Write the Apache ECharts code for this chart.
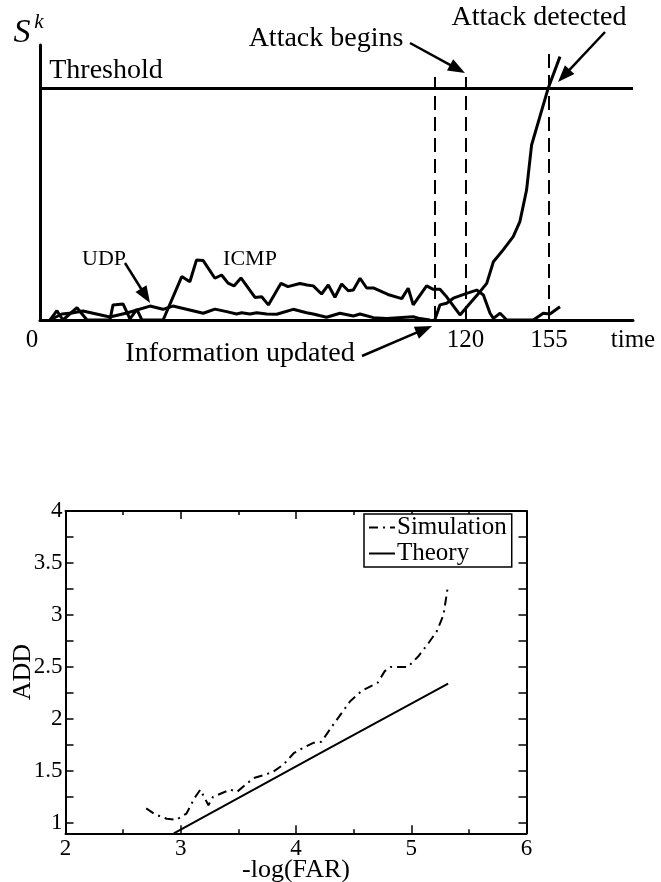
<!DOCTYPE html>
<html>
<head>
<meta charset="utf-8">
<script src="https://cdn.jsdelivr.net/npm/echarts@6/dist/echarts.min.js"></script>
<style>
html, body { margin: 0; padding: 0; background: #fff; }
#chart1 { width: 661px; height: 882px; }
</style>
</head>
<body>
<div id="chart1"></div>
<script>
// ---- top plot: statistic S^k against time ----
var timeTicks = [-58.3, 120, 155];
var timeTickLabels = ['0', '120', '155'];
var threshold = 10;
var updateTime = 107.1, attackBegin = 120, attackDetect = 155;

var udpData = [[-54.1,0],[-49.1,0.26],[-44.9,0.30],[-40.3,0.39],[-29.0,0.13],[-21.9,0.30],[-12.2,0.60],[-6.8,0.46],[-2.6,0.60],
  [10.1,0.29],[15.0,0.47],[19.9,0.36],[24.1,0.26],[26.2,0.31],[29.7,0.26],[32.5,0.31],[36.7,0.26],[40.9,0.25],[47.8,0.46],
  [53.4,0.31],[56.2,0.26],[61.8,0.12],[67.4,0.29],[73.0,0.17],[75.8,0.26],[81.4,0.10],[87.0,0.06],[98.1,0.14],[100.9,0.06],[105.1,0]];

var icmpData = [[-54.1,0],[-51.2,0.40],[-48.7,0],[-42.8,0.53],[-38.6,0],[-29.0,0],[-27.7,0.65],[-23.5,0.69],[-20.6,0.05],
  [-17.7,0.46],[-15.6,0],[-6.7,0],[1.1,1.87],[4.5,1.65],[7.3,2.59],[10.1,2.56],[15.0,1.80],[17.8,1.94],[20.5,1.59],[23.0,1.47],
  [25.9,1.81],[31.8,0.97],[34.6,1.0],[37.4,0.65],[42.7,1.58],[45.6,1.44],[50.6,1.57],[53.6,1.51],[56.2,1.47],[59.7,1.12],
  [62.5,1.51],[65.3,0.98],[68.1,1.55],[70.9,1.26],[73.0,1.29],[75.8,1.80],[78.6,1.38],[81.4,1.38],[87.5,1.10],[93.3,0.92],
  [96.0,1.37],[98.1,0.65],[103.7,1.47],[106.5,1.32],[109.3,1.32],[112.1,1.0],[117.7,0.22],[121.9,0.72],[126.1,1.22],
  [128.9,1.58],[131.7,2.51],[135.8,3.02],[140.0,3.59],[142.8,4.24],[145.6,5.60],[147.7,7.54],[154.7,10.0],[159.6,11.35]];

// statistic restarted after the information update
var updatedData = [[107.1,0],[109.3,0.65],[112.1,0.72],[114.9,0.94],[120.5,1.15],[124.7,1.29],[127.5,1.08],[130.3,0.29],
  [131.7,0.07],[134.5,0.29],[137.3,0],[148.4,0],[152.6,0.29],[155.4,0.26],[159.6,0.57]];

// ---- bottom plot: ADD against -log(FAR) ----
var simulationData = [[2.70,1.14],[2.78,1.08],[2.88,1.04],[2.96,1.03],[3.05,1.09],[3.12,1.24],[3.17,1.32],[3.24,1.17],
  [3.28,1.25],[3.43,1.32],[3.49,1.30],[3.63,1.43],[3.72,1.46],[3.80,1.49],[3.89,1.56],[3.98,1.67],[4.06,1.72],[4.15,1.77],
  [4.22,1.78],[4.32,1.94],[4.47,2.17],[4.57,2.27],[4.71,2.35],[4.77,2.46],[4.82,2.50],[4.92,2.50],[4.97,2.50],[5.06,2.60],
  [5.15,2.73],[5.22,2.84],[5.28,3.00],[5.32,3.29]];
var theoryData = [[2.94,0.9],[4.29,1.72],[5.32,2.34]];
var addLabels = [1, 1.5, 2, 2.5, 3, 3.5, 4];
var addTicks = [1, 1.25, 1.5, 1.75, 2, 2.25, 2.5, 2.75, 3, 3.25, 3.5, 3.75, 4];

var SERIF = 'Liberation Serif';

function arrow(x1, y1, x2, y2) {
  var dx = x2 - x1, dy = y2 - y1, L = Math.sqrt(dx * dx + dy * dy);
  var ux = dx / L, uy = dy / L, h = 17, w = 6.5;
  var bx = x2 - ux * h, by = y2 - uy * h;
  return [
    { type: 'line', shape: { x1: x1, y1: y1, x2: bx + ux * 2, y2: by + uy * 2 }, style: { stroke: '#000', lineWidth: 2.5 } },
    { type: 'polygon', shape: { points: [[x2, y2], [bx - uy * w, by + ux * w], [bx + uy * w, by - ux * w]] }, style: { fill: '#000' } }
  ];
}

function label(txt, x, y, size, italic) {
  return {
    type: 'text', x: x, y: y,
    style: { text: txt, fontFamily: SERIF, fontSize: size, fontStyle: italic ? 'italic' : 'normal',
             fill: '#000', align: 'center', verticalAlign: 'middle' }
  };
}

var graphics = [
  label('S', 22, 33, 34, true),
  label('k', 39, 22, 21, true),
  label('Threshold', 106, 71, 28),
  label('Attack begins', 326, 39, 28),
  label('Attack detected', 539, 18, 28),
  label('UDP', 104, 259, 22),
  label('ICMP', 250, 259, 22),
  label('Information updated', 240, 354, 28)
].concat(arrow(410, 43, 465, 73))
 .concat(arrow(605, 32, 558, 82))
 .concat(arrow(125, 263, 150, 303))
 .concat(arrow(362, 356, 432, 326));

var myChart = echarts.init(document.getElementById('chart1'));

var tickFont = { color: '#000', fontFamily: SERIF, fontSize: 23 };

var option = {
  animation: false,
  backgroundColor: '#fff',
  grid: [
    { left: 40, right: 28, top: 45, bottom: 562, outerBoundsMode: 'none' },
    { left: 65.5, right: 134.5, top: 511, bottom: 48.7, outerBoundsMode: 'none' }
  ],
  legend: {
    data: ['Simulation', 'Theory'],
    orient: 'vertical',
    left: 364, top: 514,
    itemWidth: 26, itemHeight: 12, itemGap: 1,
    padding: [1, 5, 1, 4],
    borderColor: '#000', borderWidth: 1.5,
    backgroundColor: '#fff',
    itemStyle: { opacity: 0, borderWidth: 0 },
    textStyle: { color: '#000', fontFamily: SERIF, fontSize: 25, padding: [0, 0, 0, -3] }
  },
  xAxis: [
    {
      gridIndex: 0, type: 'value', min: -58.3, max: 190.2,
      name: 'time', nameLocation: 'end', nameGap: 0, nameMoveOverlap: false,
      nameTextStyle: { color: '#000', fontFamily: SERIF, fontSize: 25, align: 'center', verticalAlign: 'top', padding: [8, 0, 0, 0] },
      axisLine: { lineStyle: { color: '#000', width: 3 } },
      axisTick: { show: false },
      splitLine: { show: false },
      axisLabel: {
        customValues: timeTicks, margin: 8,
        color: '#000', fontFamily: SERIF, fontSize: 25,
        formatter: function (v) {
          var best = 0;
          for (var i = 1; i < timeTicks.length; i++) {
            if (Math.abs(timeTicks[i] - v) < Math.abs(timeTicks[best] - v)) best = i;
          }
          return best === 0 ? '{z|' + timeTickLabels[0] + '}' : timeTickLabels[best];
        },
        rich: { z: { color: '#000', fontFamily: SERIF, fontSize: 25, padding: [0, 16, 0, 0] } }
      }
    },
    {
      gridIndex: 1, type: 'value', min: 2, max: 6, interval: 1,
      name: '-log(FAR)', nameLocation: 'middle', nameGap: 24, nameMoveOverlap: false,
      nameTextStyle: { color: '#000', fontFamily: SERIF, fontSize: 26 },
      axisLine: { lineStyle: { color: '#000', width: 2 } },
      axisTick: { inside: true, length: 8, lineStyle: { width: 1.5 } },
      minorTick: { show: true, splitNumber: 2, length: 4, lineStyle: { color: '#000', width: 1.5 } },
      splitLine: { show: false },
      axisLabel: Object.assign({ margin: 4 }, tickFont)
    },
    {
      gridIndex: 1, type: 'value', position: 'top', min: 2, max: 6, interval: 1,
      axisLine: { lineStyle: { color: '#000', width: 2 } },
      axisTick: { inside: true, length: 8, lineStyle: { width: 1.5 } },
      minorTick: { show: true, splitNumber: 2, length: 4, lineStyle: { color: '#000', width: 1.5 } },
      splitLine: { show: false },
      axisLabel: { show: false }
    }
  ],
  yAxis: [
    {
      gridIndex: 0, type: 'value', min: 0, max: 11.85,
      axisLine: { show: true, onZero: false, lineStyle: { color: '#000', width: 3 } },
      axisTick: { show: false }, axisLabel: { show: false }, splitLine: { show: false }
    },
    {
      gridIndex: 1, type: 'value', min: 0.9, max: 4,
      name: 'ADD', nameLocation: 'middle', nameGap: 29, nameMoveOverlap: false,
      nameTextStyle: { color: '#000', fontFamily: SERIF, fontSize: 26 },
      axisLine: { show: true, lineStyle: { color: '#000', width: 2 } },
      axisTick: { inside: true, length: 8, customValues: addTicks, lineStyle: { width: 1.5 } },
      splitLine: { show: false },
      axisLabel: Object.assign({ margin: 3, customValues: addLabels }, tickFont)
    },
    {
      gridIndex: 1, type: 'value', position: 'right', min: 0.9, max: 4,
      axisLine: { show: true, lineStyle: { color: '#000', width: 2 } },
      axisTick: { inside: true, length: 8, customValues: addTicks, lineStyle: { width: 1.5 } },
      splitLine: { show: false },
      axisLabel: { show: false }
    }
  ],
  series: [
    {
      name: 'UDP', type: 'line', xAxisIndex: 0, yAxisIndex: 0, data: udpData,
      symbol: 'none', lineStyle: { color: '#000', width: 3 }, z: 3
    },
    {
      name: 'ICMP', type: 'line', xAxisIndex: 0, yAxisIndex: 0, data: icmpData,
      symbol: 'none', lineStyle: { color: '#000', width: 3 }, z: 3,
      markLine: {
        silent: true, symbol: 'none', label: { show: false },
        lineStyle: { color: '#000', type: [14, 7], width: 2 },
        data: [
          { yAxis: threshold, lineStyle: { type: 'solid', width: 3, color: '#000' } },
          [{ coord: [updateTime, 0] }, { coord: [updateTime, 10.47] }],
          [{ coord: [attackBegin, 0] }, { coord: [attackBegin, 10.47] }],
          [{ coord: [attackDetect, 0] }, { coord: [attackDetect, 11.55] }]
        ]
      }
    },
    {
      name: 'Updated', type: 'line', xAxisIndex: 0, yAxisIndex: 0, data: updatedData,
      symbol: 'none', lineStyle: { color: '#000', width: 3 }, z: 3
    },
    {
      name: 'Simulation', type: 'line', xAxisIndex: 1, yAxisIndex: 1, data: simulationData,
      symbol: 'none', itemStyle: { color: '#000' },
      lineStyle: { color: '#000', width: 2, type: [9, 5, 2, 5] }
    },
    {
      name: 'Theory', type: 'line', xAxisIndex: 1, yAxisIndex: 1, data: theoryData,
      symbol: 'none', itemStyle: { color: '#000' },
      lineStyle: { color: '#000', width: 2 }
    }
  ],
  graphic: graphics
};

myChart.setOption(option);
</script>
</body>
</html>
